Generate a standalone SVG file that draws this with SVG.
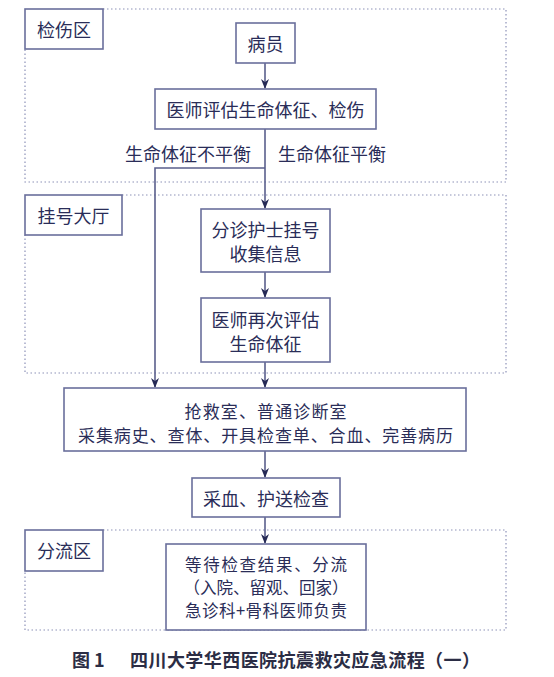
<svg xmlns="http://www.w3.org/2000/svg" width="554" height="677" viewBox="0 0 554 677">
<style>
.zone{fill:none;stroke:#8d92b8;stroke-width:1.2;stroke-dasharray:1.5 2.5}
.box{fill:#fff;stroke:#6a6f9c;stroke-width:1.6}
.lbl{fill:#fff;stroke:#6a6f9c;stroke-width:1.6}
.t{font-family:"Noto Sans CJK SC","Noto Sans",sans-serif;font-size:18px;fill:#2a2d58;text-anchor:middle;dominant-baseline:central}
.m{font-size:17px}
.s{font-size:16.5px}
.c{fill:none;stroke:#5a5f8c;stroke-width:1.6}
.cap{font-family:"Noto Sans CJK SC","Noto Sans",sans-serif;font-size:18px;font-weight:bold;fill:#2b2d45}
</style>
<defs>
<marker id="ah" markerWidth="10" markerHeight="12" refX="9" refY="5" orient="auto" markerUnits="userSpaceOnUse">
<path d="M0,1 L10,5 L0,9 L3,5 Z" fill="#262a55"/>
</marker>
</defs>
<rect width="554" height="677" fill="#fff"/>
<g id="zones">
<path class="zone" d="M103,9 H506 V182 H25 V49"/>
<path class="zone" d="M122,195 H506 V373 H25 V235"/>
<path class="zone" d="M103,530 H506 V630 H25 V571"/>
</g>
<g id="zone1-label"><rect class="lbl" x="25" y="9" width="78" height="40"/><text class="t" x="64" y="29">检伤区</text></g>
<g id="zone2-label"><rect class="lbl" x="25" y="195" width="97" height="40"/><text class="t" x="73.5" y="215">挂号大厅</text></g>
<g id="zone3-label"><rect class="lbl" x="25" y="530" width="78" height="41"/><text class="t" x="64" y="550">分流区</text></g>
<g id="connectors">
<path class="c" d="M265,63 V88" marker-end="url(#ah)"/>
<path class="c" d="M265,129 V208" marker-end="url(#ah)"/>
<path class="c" d="M265,168 H155 V387" marker-end="url(#ah)"/>
<path class="c" d="M265,272 V297" marker-end="url(#ah)"/>
<path class="c" d="M265,362 V387" marker-end="url(#ah)"/>
<path class="c" d="M265,451 V477" marker-end="url(#ah)"/>
<path class="c" d="M265,517 V543" marker-end="url(#ah)"/>
<text class="t" x="251" y="153" style="text-anchor:end">生命体征不平衡</text>
<text class="t" x="278" y="153" style="text-anchor:start">生命体征平衡</text>
</g>
<g id="patient"><rect class="box" x="236" y="23" width="59" height="40"/><text class="t" x="265.5" y="43">病员</text></g>
<g id="assess1"><rect class="box" x="155" y="89" width="221" height="40"/><text class="t" x="265.5" y="109">医师评估生命体征、检伤</text></g>
<g id="register"><rect class="box" x="201" y="209" width="129" height="63"/><text class="t" x="265.5" y="229">分诊护士挂号</text><text class="t" x="265.5" y="253">收集信息</text></g>
<g id="assess2"><rect class="box" x="201" y="298" width="129" height="64"/><text class="t" x="265.5" y="319">医师再次评估</text><text class="t" x="265.5" y="343">生命体征</text></g>
<g id="rescue"><rect class="box" x="64" y="388" width="402" height="63"/><text class="t m" x="265.5" y="410" textLength="162" lengthAdjust="spacing">抢救室、普通诊断室</text><text class="t m" x="265.5" y="434" textLength="375" lengthAdjust="spacing">采集病史、查体、开具检查单、合血、完善病历</text></g>
<g id="blood"><rect class="box" x="192" y="478" width="148" height="39"/><text class="t" x="266" y="498">采血、护送检查</text></g>
<g id="triage"><rect class="box" x="166" y="544" width="200" height="86"/><text class="t s" x="266" y="564" textLength="162" lengthAdjust="spacing">等待检查结果、分流</text><text class="t s" x="266" y="587" textLength="165" lengthAdjust="spacing">（入院、留观、回家）</text><text class="t s" x="266" y="610" textLength="162" lengthAdjust="spacing">急诊科+骨科医师负责</text></g>
<g id="caption"><text class="cap" x="72" y="667">图 1</text><text class="cap" x="130" y="667" textLength="350" lengthAdjust="spacing">四川大学华西医院抗震救灾应急流程（一）</text></g>
</svg>
